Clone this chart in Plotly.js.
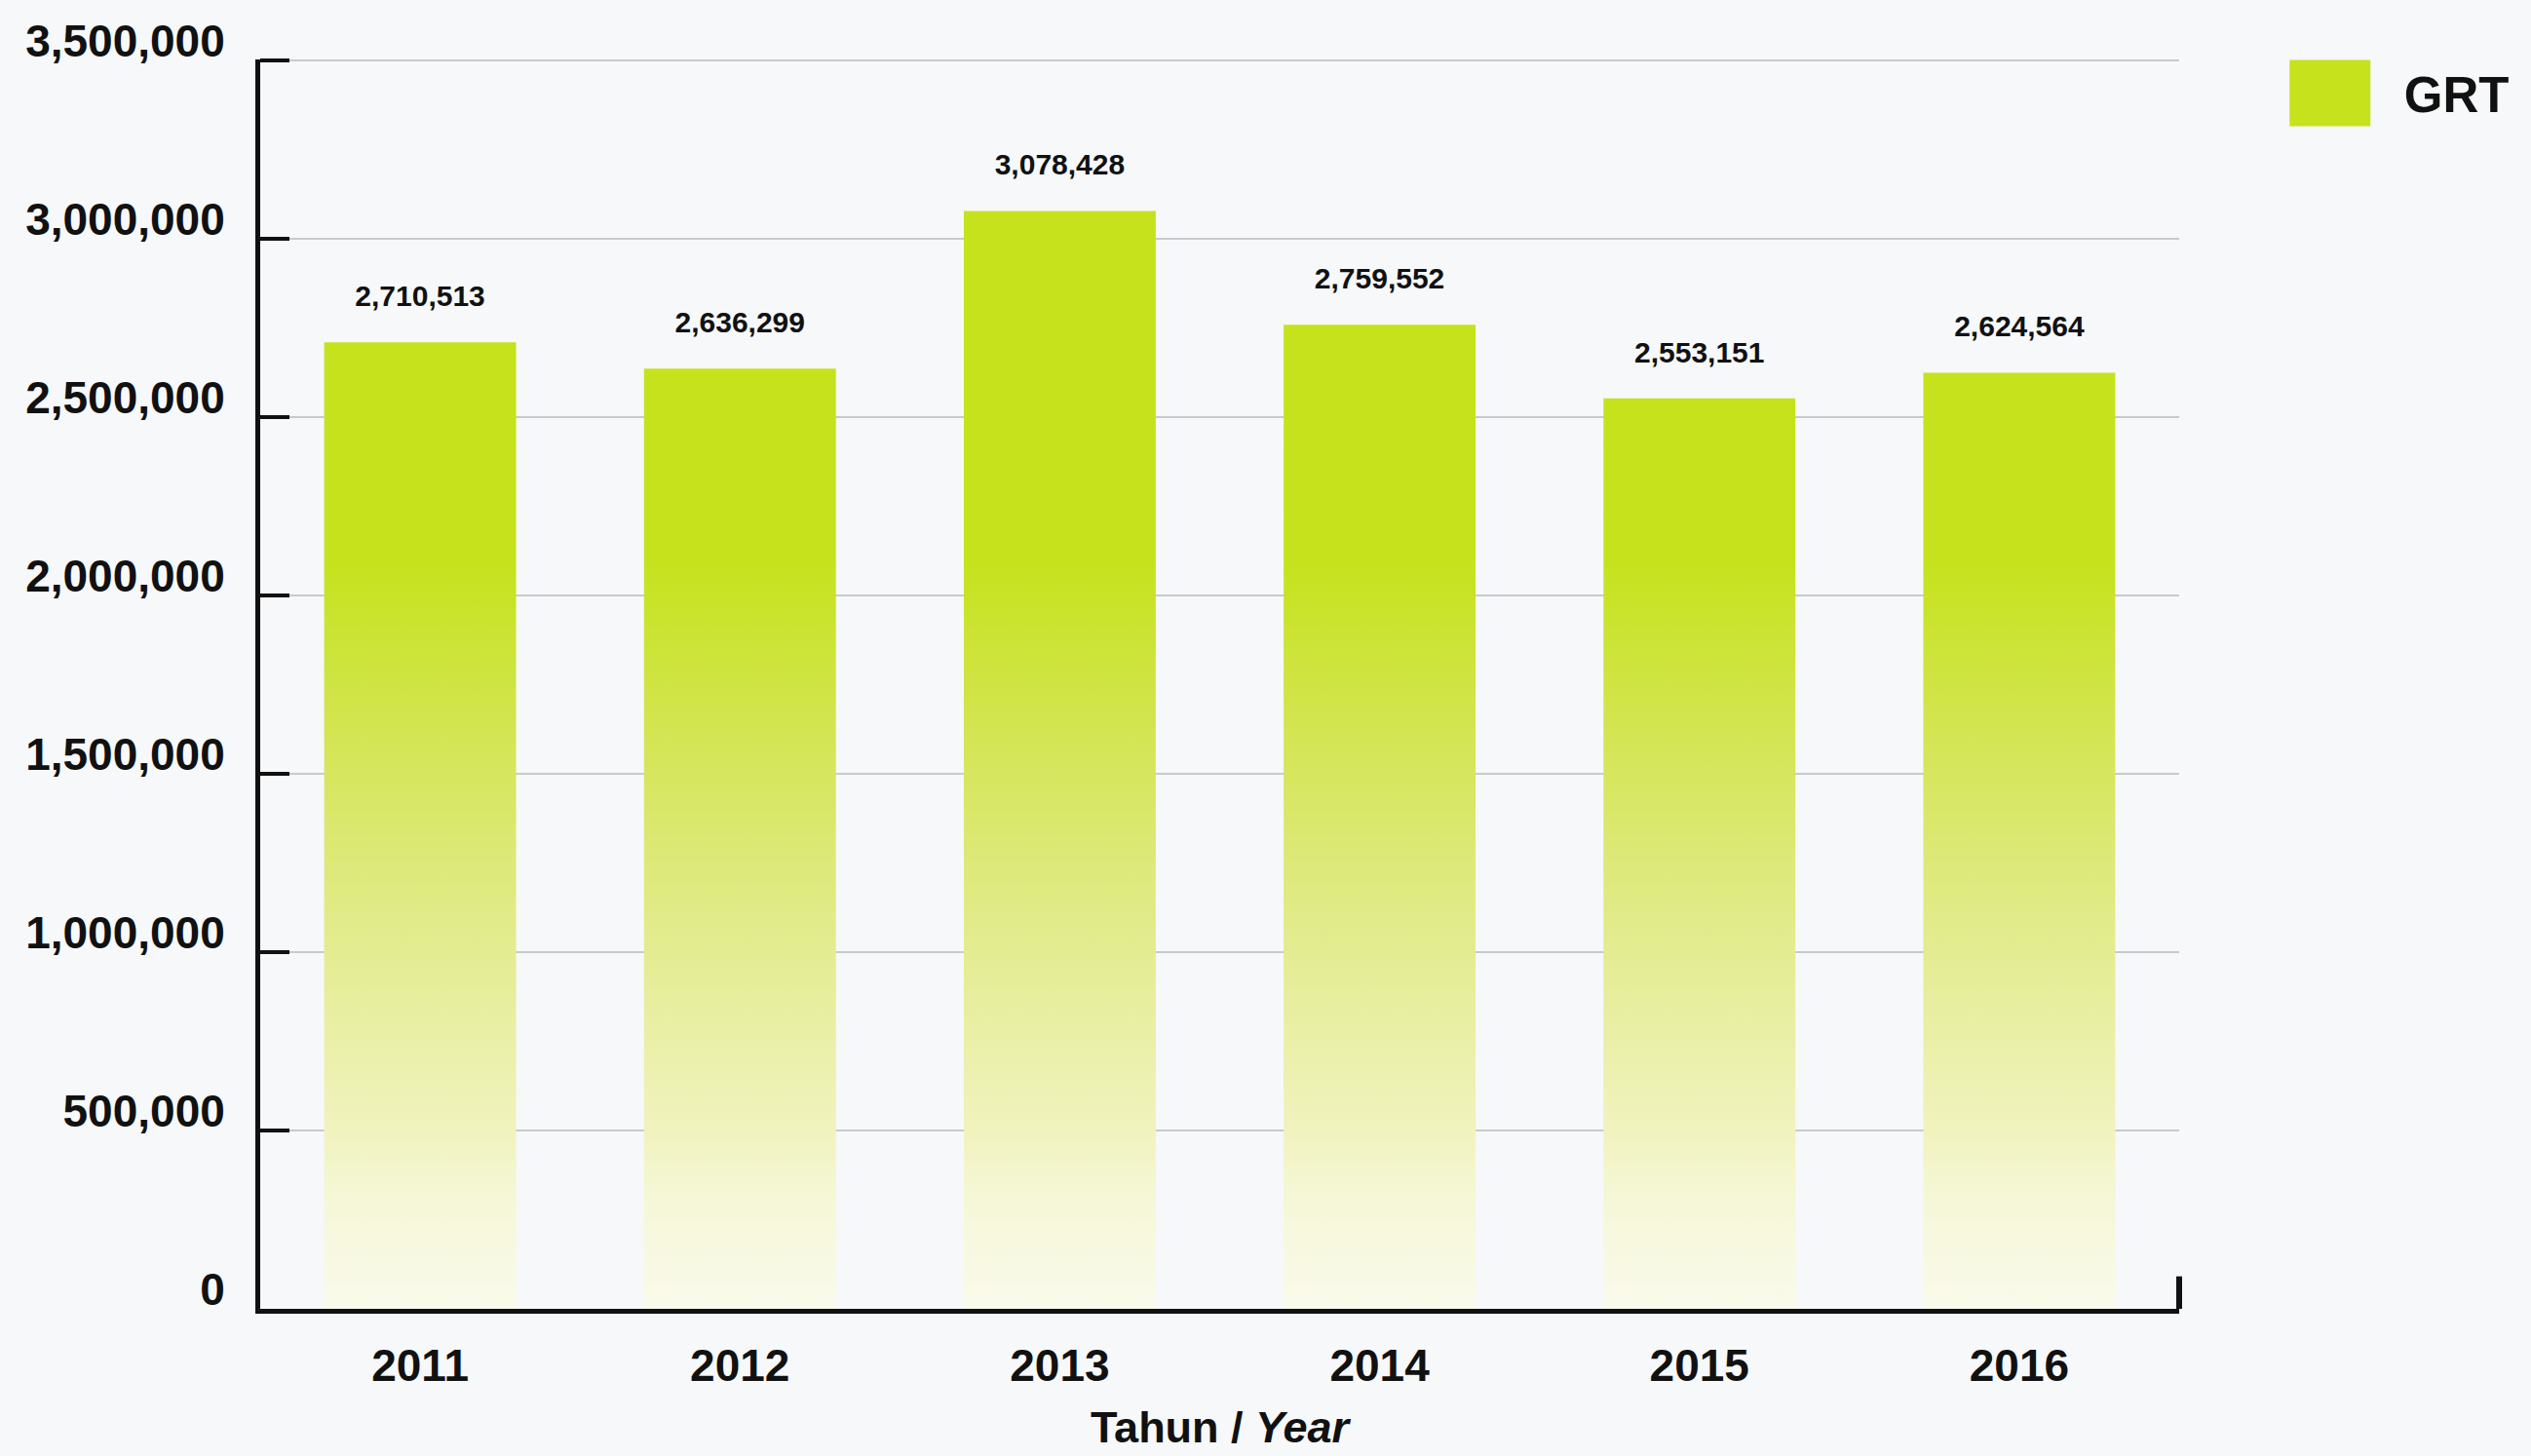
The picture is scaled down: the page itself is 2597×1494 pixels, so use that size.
<!DOCTYPE html>
<html>
<head>
<meta charset="utf-8">
<script src="https://cdn.plot.ly/plotly-3.0.1.min.js"></script>
<style>
  html, body { margin: 0; padding: 0; background: #f6f8fa; }
  #chart { width: 2597px; height: 1494px; }
</style>
</head>
<body>
<div id="chart"></div>
<script>
// ---- data ----
const years = ["2011", "2012", "2013", "2014", "2015", "2016"];
const grtValues = [2710513, 2636299, 3078428, 2759552, 2553151, 2624564];
const seriesName = "GRT";
const yTickValues = [0, 500000, 1000000, 1500000, 2000000, 2500000, 3000000, 3500000];

// ---- style ----
const FONT = "Liberation Sans, Arial, Helvetica, sans-serif";
const BAR_COLOR = "#c6e21c";
const BG = "#f6f8fa";
// gradient stops: [axis value, colour]
const gradStops = [
  [0,       "#f9faea"],
  [300000,  "#f6f7d8"],
  [500000,  "#f0f3be"],
  [1000000, "#e4ec92"],
  [1500000, "#d6e65f"],
  [2100000, "#c6e21c"]
];

function fmt(n) {
  return String(n).replace(/\B(?=(\d{3})+(?!\d))/g, ",");
}

const barTrace = {
  type: "bar",
  name: seriesName,
  x: years,
  y: grtValues,
  marker: { color: BAR_COLOR, line: { width: 0 } },
  hoverinfo: "x+y",
  showlegend: true
};

const labelTrace = {
  type: "scatter",
  mode: "markers+text",
  x: years,
  y: grtValues,
  text: grtValues.map(fmt),
  textposition: "top center",
  textfont: { family: FONT, size: 30, color: "#111", weight: 700 },
  marker: { size: 46, color: "rgba(0,0,0,0)", line: { width: 0 } },
  hoverinfo: "skip",
  showlegend: false,
  cliponaxis: false
};

const layout = {
  width: 2597, height: 1494,
  margin: { l: 267, r: 361, t: 61, b: 151, pad: 0 },
  paper_bgcolor: BG,
  plot_bgcolor: BG,
  bargap: 0.4,
  font: { family: FONT, color: "#111" },
  xaxis: {
    type: "category",
    range: [-0.5, years.length - 0.5],
    showline: true, linewidth: 5, linecolor: "#111",
    ticks: "",
    showgrid: false, zeroline: false,
    tickfont: { family: FONT, size: 46, color: "#111", weight: 700 },
    ticklabelstandoff: 14,
    title: {
      text: "Tahun / <i>Year</i>",
      font: { family: FONT, size: 45, color: "#111", weight: 700 },
      standoff: 24
    }
  },
  yaxis: {
    range: [0, 3503500],
    tickvals: yTickValues,
    tickformat: ",d",
    showline: true, linewidth: 5, linecolor: "#111",
    ticks: "inside", ticklen: 30, tickwidth: 4, tickcolor: "#111",
    showgrid: true, gridcolor: "#c9cacb", gridwidth: 1.5,
    zeroline: false,
    tickfont: { family: FONT, size: 46, color: "#111", weight: 700 },
    ticklabelshift: -20,
    ticklabelstandoff: 22
  },
  legend: {
    x: 1.04, y: 1.004, xanchor: "left", yanchor: "top",
    bgcolor: "rgba(0,0,0,0)", borderwidth: 0,
    itemwidth: 142,
    font: { family: FONT, size: 51, color: "#111", weight: 700 }
  },
  shapes: [{
    type: "line", xref: "paper", yref: "paper",
    x0: 1, x1: 1, y0: 0, y1: 0.026,
    line: { color: "#111", width: 6 }
  }]
};

const gd = document.getElementById("chart");
Plotly.newPlot(gd, [barTrace, labelTrace], layout, { displayModeBar: false, responsive: false }).then(() => {
  const ya = gd._fullLayout.yaxis;
  const svgNS = "http://www.w3.org/2000/svg";
  const svg = gd.querySelector("svg.main-svg");
  let defs = svg.querySelector("defs");
  if (!defs) { defs = document.createElementNS(svgNS, "defs"); svg.insertBefore(defs, svg.firstChild); }
  const maxV = gradStops[gradStops.length - 1][0];
  const grad = document.createElementNS(svgNS, "linearGradient");
  grad.setAttribute("id", "grtGrad");
  grad.setAttribute("gradientUnits", "userSpaceOnUse");
  grad.setAttribute("x1", "0"); grad.setAttribute("x2", "0");
  grad.setAttribute("y1", String(ya.l2p(0)));
  grad.setAttribute("y2", String(ya.l2p(maxV)));
  gradStops.forEach(([v, c]) => {
    const s = document.createElementNS(svgNS, "stop");
    s.setAttribute("offset", String(v / maxV));
    s.setAttribute("stop-color", c);
    grad.appendChild(s);
  });
  defs.appendChild(grad);
  gd.querySelectorAll(".barlayer .point path").forEach(p => {
    p.style.fill = "url(#grtGrad)";
  });
  // enlarge legend swatch
  gd.querySelectorAll(".legend .legendpoints path").forEach(p => {
    p.setAttribute("d", "M41.5,34H-41.5V-34H41.5Z");
    p.style.strokeWidth = "0";
  });
});
</script>
</body>
</html>
